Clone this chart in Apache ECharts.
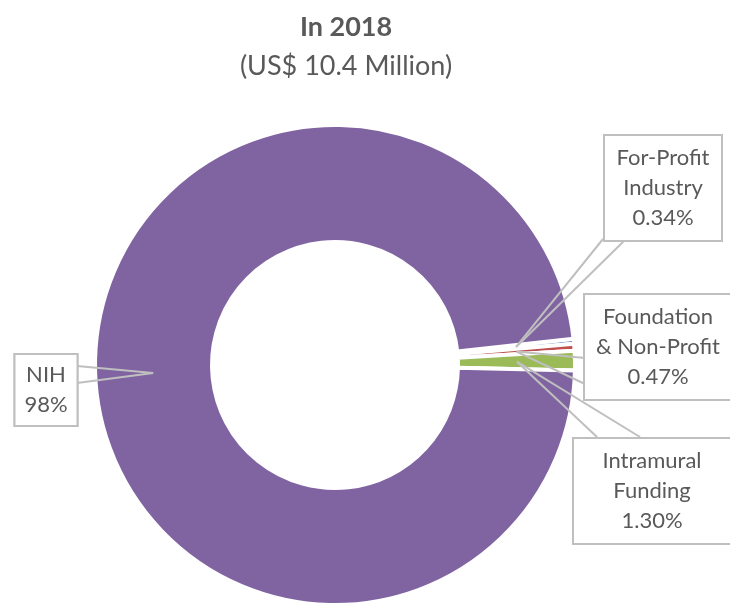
<!DOCTYPE html>
<html lang="en">
<head>
	<meta charset="UTF-8">
	<title>funding 2018</title>
	<style>
		html, body{
			margin: 0;
			padding: 0;
			background: #fff;
		}
		#main{
			width: 730px;
			height: 614px;
		}
	</style>
	<script src="https://cdn.jsdelivr.net/npm/echarts@6/dist/echarts.min.js"></script>
</head>
<body>
	<div id="main"></div>
	<script>
		// data
		var names = ['For-Profit\nIndustry', 'Foundation\n& Non-Profit', 'Intramural\nFunding', 'NIH'];
		var values = [0.34, 0.47, 1.30, 98];
		var pctLabels = ['0.34%', '0.47%', '1.30%', '98%'];
		var colors = ['#4F81BD', '#C0504D', '#9BBB59', '#8064A2'];

		// callout boxes: centre, text width, padding, and the two base points of the pointer wedge
		var boxes = [
			{cx: 663, cy: 188, w: 96,  pad: [7, 10], base: [[603, 239], [626, 239]]},
			{cx: 658, cy: 347, w: 126, pad: [7, 10], base: [[585, 358], [585, 384]]},
			{cx: 652, cy: 491, w: 136, pad: [7, 10], base: [[597, 437], [640, 437]]},
			{cx: 46,  cy: 390, w: 49,  pad: [5, 6], base: [[77, 366], [77, 383]]}
		];

		var center = [335, 365];
		var startAngle = 6.3;
		var tipR = 182;

		// mid angle of each slice, for the pointer tips
		var total = values.reduce(function(a, b){ return a + b; }, 0);
		var midAngles = [];
		var acc = 0;
		for (var i = 0; i < values.length; i++) {
			var a0 = startAngle - acc / total * 360;
			acc += values[i];
			var a1 = startAngle - acc / total * 360;
			midAngles.push((a0 + a1) / 2 * Math.PI / 180);
		}

		var myChart = echarts.init(document.getElementById('main'), null, {renderer: 'canvas'});

		// one transparent pie per wedge side, drawn on top of the donut
		function calloutSeries(side, z){
			return {
				type: 'pie',
				z: z,
				silent: true,
				center: center,
				radius: [123, 240],
				startAngle: startAngle,
				clockwise: true,
				avoidLabelOverlap: false,
				itemStyle: {color: 'rgba(0,0,0,0)', borderWidth: 0},
				emphasis: {disabled: true},
				label: {
					show: true,
					position: 'outside',
					formatter: function(p){
						return p.name + '\n' + pctLabels[p.dataIndex];
					},
					fontFamily: 'Lato',
					fontSize: 22,
					lineHeight: 30,
					color: '#595959',
					align: 'center',
					overflow: 'none',
					backgroundColor: '#fff',
					borderColor: '#BFBFBF',
					borderWidth: 2
				},
				labelLine: {
					show: true,
					lineStyle: {color: '#BFBFBF', width: 2}
				},
				labelLayout: function(p){
					var b = boxes[p.dataIndex];
					var ang = midAngles[p.dataIndex];
					var tip = [center[0] + tipR * Math.cos(ang), center[1] - tipR * Math.sin(ang)];
					var bp = b.base[side];
					return {
						x: b.cx,
						y: b.cy,
						align: 'center',
						verticalAlign: 'middle',
						labelLinePoints: [tip, bp, bp]
					};
				},
				data: names.map(function(n, i){
					return {
						name: n,
						value: values[i],
						label: {width: boxes[i].w, padding: boxes[i].pad}
					};
				})
			};
		}

		var option = {
			animation: false,
			title: {
				text: 'In 2018',
				subtext: '(US$ 10.4 Million)',
				left: 341,
				top: 6,
				textAlign: 'center',
				itemGap: 7,
				textStyle: {
					fontFamily: 'Lato',
					fontSize: 27,
					fontWeight: 'bold',
					color: '#595959',
					lineHeight: 32
				},
				subtextStyle: {
					fontFamily: 'Lato',
					fontSize: 27,
					color: '#595959',
					lineHeight: 32
				}
			},
			series: [{
				type: 'pie',
				z: 2,
				center: center,
				radius: [123, 240],
				startAngle: startAngle,
				clockwise: true,
				itemStyle: {
					borderColor: '#fff',
					borderWidth: 4
				},
				emphasis: {disabled: true},
				label: {show: false},
				labelLine: {show: false},
				data: names.map(function(n, i){
					return {name: n, value: values[i], itemStyle: {color: colors[i]}};
				})
			},
			calloutSeries(0, 3),
			calloutSeries(1, 4)]
		};

		myChart.setOption(option);
	</script>
</body>
</html>
